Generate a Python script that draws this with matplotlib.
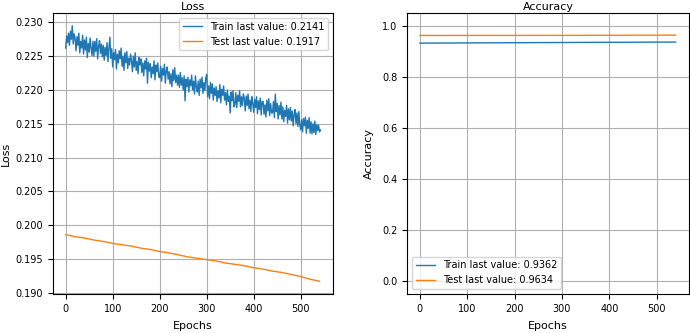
import numpy as np
import matplotlib
matplotlib.use("Agg")
import matplotlib.pyplot as plt

# train loss, read every 2 epochs (0..542)
train_loss = [
    0.2262, 0.2280, 0.2270, 0.2284, 0.2266, 0.2287, 0.2275, 0.2295, 0.2268, 0.2283,
    0.2276, 0.2258, 0.2279, 0.2266, 0.2284, 0.2255, 0.2272, 0.2262, 0.2281, 0.2253,
    0.2274, 0.2259, 0.2278, 0.2248, 0.2269, 0.2256, 0.2277, 0.2262, 0.2251, 0.2272,
    0.2250, 0.2272, 0.2257, 0.2276, 0.2246, 0.2265, 0.2273, 0.2254, 0.2268, 0.2249,
    0.2266, 0.2244, 0.2263, 0.2251, 0.2270, 0.2242, 0.2262, 0.2278, 0.2247, 0.2261,
    0.2234, 0.2255, 0.2245, 0.2260, 0.2231, 0.2253, 0.2240, 0.2258, 0.2246, 0.2262,
    0.2235, 0.2250, 0.2229, 0.2255, 0.2240, 0.2257, 0.2232, 0.2247, 0.2237, 0.2253,
    0.2244, 0.2227, 0.2250, 0.2234, 0.2255, 0.2229, 0.2242, 0.2224, 0.2248, 0.2237,
    0.2246, 0.2226, 0.2240, 0.2221, 0.2243, 0.2231, 0.2247, 0.2210, 0.2241, 0.2228,
    0.2239, 0.2218, 0.2234, 0.2224, 0.2243, 0.2215, 0.2237, 0.2227, 0.2240, 0.2220,
    0.2218, 0.2235, 0.2213, 0.2232, 0.2222, 0.2238, 0.2210, 0.2229, 0.2234, 0.2216,
    0.2227, 0.2209, 0.2224, 0.2205, 0.2230, 0.2214, 0.2233, 0.2211, 0.2222, 0.2207,
    0.2222, 0.2204, 0.2226, 0.2207, 0.2218, 0.2200, 0.2221, 0.2184, 0.2216, 0.2205,
    0.2219, 0.2197, 0.2215, 0.2206, 0.2222, 0.2200, 0.2213, 0.2194, 0.2221, 0.2204,
    0.2197, 0.2213, 0.2192, 0.2216, 0.2203, 0.2219, 0.2195, 0.2211, 0.2199, 0.2218,
    0.2223, 0.2190, 0.2206, 0.2187, 0.2211, 0.2195, 0.2209, 0.2185, 0.2203, 0.2192,
    0.2205, 0.2183, 0.2199, 0.2188, 0.2208, 0.2181, 0.2201, 0.2192, 0.2206, 0.2185,
    0.2196, 0.2178, 0.2200, 0.2183, 0.2191, 0.2166, 0.2197, 0.2184, 0.2199, 0.2175,
    0.2179, 0.2196, 0.2174, 0.2192, 0.2183, 0.2199, 0.2175, 0.2190, 0.2177, 0.2194,
    0.2188, 0.2169, 0.2191, 0.2177, 0.2194, 0.2172, 0.2185, 0.2168, 0.2190, 0.2180,
    0.2167, 0.2186, 0.2174, 0.2190, 0.2165, 0.2184, 0.2171, 0.2188, 0.2163, 0.2183,
    0.2183, 0.2164, 0.2178, 0.2160, 0.2185, 0.2169, 0.2187, 0.2162, 0.2180, 0.2166,
    0.2166, 0.2183, 0.2159, 0.2194, 0.2168, 0.2180, 0.2157, 0.2177, 0.2163, 0.2182,
    0.2157, 0.2175, 0.2153, 0.2170, 0.2161, 0.2177, 0.2151, 0.2172, 0.2156, 0.2174,
    0.2154, 0.2169, 0.2147, 0.2164, 0.2171, 0.2150, 0.2166, 0.2146, 0.2168, 0.2149,
    0.2141, 0.2156, 0.2138, 0.2158, 0.2147, 0.2160, 0.2136, 0.2155, 0.2143, 0.2159,
    0.2136, 0.2153, 0.2135, 0.2150, 0.2137, 0.2154, 0.2134, 0.2149, 0.2140, 0.2148,
    0.2138, 0.2141,
]
train_epochs = np.arange(len(train_loss)) * 2

# test loss, every 20 epochs (0..540)
test_loss = [
    0.1986, 0.1983, 0.1981, 0.1978, 0.1976, 0.1973, 0.1971, 0.1969, 0.1966, 0.1964,
    0.1961, 0.1959, 0.1956, 0.1953, 0.1951, 0.1949, 0.1947, 0.1944, 0.1942, 0.1940,
    0.1937, 0.1935, 0.1932, 0.1930, 0.1927, 0.1924, 0.1920, 0.1917,
]
test_epochs = np.arange(len(test_loss)) * 20

# accuracy, every 60 epochs (0..540)
train_acc = [0.9320, 0.9325, 0.9330, 0.9335, 0.9340, 0.9345, 0.9350, 0.9354, 0.9358, 0.9362]
test_acc = [0.9620, 0.9621, 0.9622, 0.9622, 0.9623, 0.9624, 0.9625, 0.9628, 0.9632, 0.9634]
acc_epochs = np.arange(len(train_acc)) * 60

fig = plt.figure(figsize=(6.9, 3.33), dpi=100)
ax1 = fig.add_axes([0.0768, 0.117, 0.406, 0.844])
ax2 = fig.add_axes([0.590, 0.117, 0.409, 0.844])

ax1.plot(train_epochs, train_loss, lw=1, label="Train last value: %.4f" % train_loss[-1])
ax1.plot(test_epochs, test_loss, lw=1, label="Test last value: %.4f" % test_loss[-1])
ax1.set_title("Loss", fontsize=8, pad=2)
ax1.set_xlabel("Epochs", fontsize=8, labelpad=5)
ax1.set_ylabel("Loss", fontsize=8, labelpad=3)
ax1.set_xlim(-27, 569)
ax1.set_yticks(np.arange(0.190, 0.2301, 0.005))
ax1.grid(True)
ax1.legend(loc="upper right", fontsize=7)

ax2.plot(acc_epochs, train_acc, lw=1, label="Train last value: %.4f" % train_acc[-1])
ax2.plot(acc_epochs, test_acc, lw=1, label="Test last value: %.4f" % test_acc[-1])
ax2.set_title("Accuracy", fontsize=8, pad=2)
ax2.set_xlabel("Epochs", fontsize=8, labelpad=5)
ax2.set_ylabel("Accuracy", fontsize=8, labelpad=6)
ax2.set_xlim(-27, 569)
ax2.set_ylim(-0.05, 1.05)
ax2.grid(True)
ax2.legend(loc="lower left", fontsize=7)

for ax in (ax1, ax2):
    ax.tick_params(labelsize=7)

fig.savefig("out.png", dpi=100)
